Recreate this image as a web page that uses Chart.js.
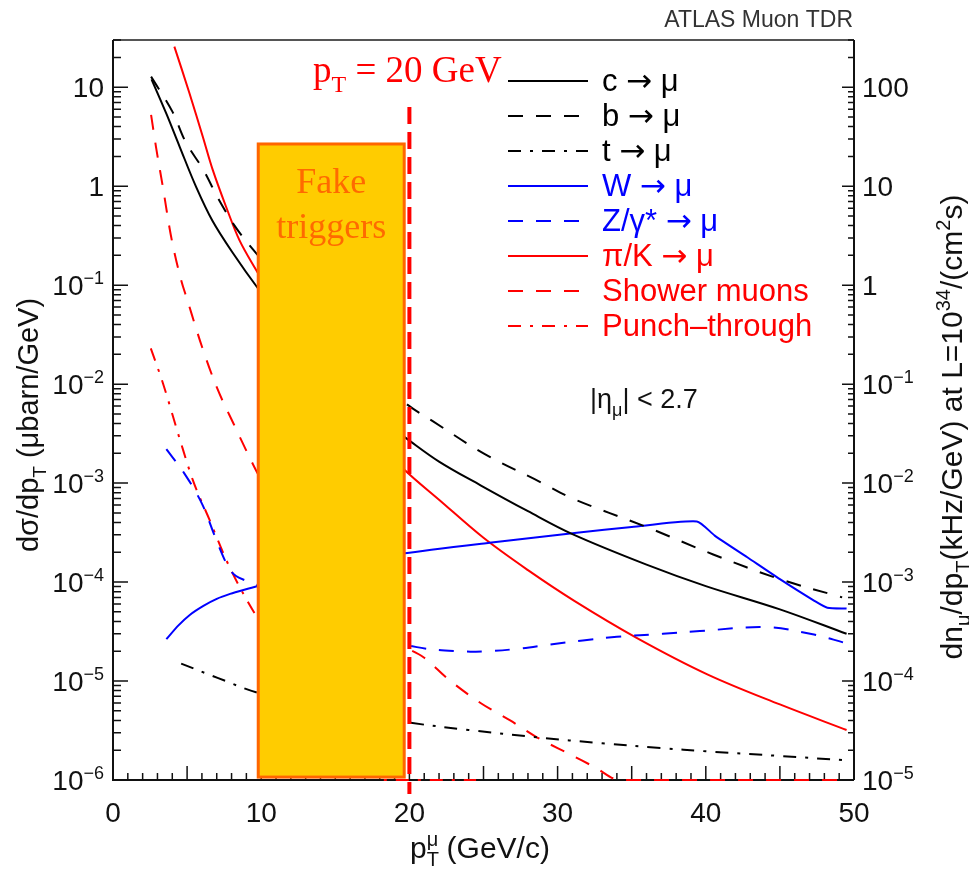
<!DOCTYPE html>
<html>
<head>
<meta charset="utf-8">
<script src="https://cdn.jsdelivr.net/npm/chart.js@4.4.1/dist/chart.umd.min.js"></script>
<style>
  body { margin: 0; background: #fff; }
  canvas { display: block; }
</style>
</head>
<body>
<canvas id="muonChart" width="969" height="873"></canvas>
<script>
// c -> mu
const cMuX = [2.6, 3.6, 4.5, 5.6, 6.7, 8.1, 9.8, 12, 15, 17.5, 19.7, 22, 24.8, 28, 31, 36, 40, 45, 49.5];
const cMuY = [12, 5.4, 2.5, 0.99, 0.45, 0.21, 0.092, 0.035, 0.011, 5.0e-3, 2.9e-3, 1.65e-3, 9.5e-4, 5.2e-4, 3.05e-4, 1.5e-4, 9.1e-5, 5.3e-5, 3.0e-5];
// b -> mu
const bMuX = [2.57, 4.0, 4.9, 6.1, 7.1, 8.2, 9.4, 12, 15, 17.5, 19.8, 21.6, 25, 28.8, 31, 36, 40.5, 45, 49.2];
const bMuY = [12.8, 5.7, 2.8, 1.46, 0.75, 0.40, 0.234, 0.083, 0.028, 0.0126, 6.3e-3, 4.2e-3, 2.0e-3, 1.03e-3, 7.0e-4, 3.6e-4, 1.9e-4, 1.07e-4, 7.0e-5];
// t -> mu
const tMuX = [4.6, 7.1, 9.8, 15, 20, 24, 28.6, 33, 37, 40, 45, 49.5];
const tMuY = [1.5e-5, 1.07e-5, 7.6e-6, 5.0e-6, 3.8e-6, 3.2e-6, 2.7e-6, 2.35e-6, 2.1e-6, 1.95e-6, 1.75e-6, 1.58e-6];
// W -> mu
const wMuX = [3.6, 4.4, 5.2, 6.1, 7.0, 7.9, 8.8, 9.8, 15, 19.7, 25.4, 31.3, 35, 39.4, 40.6, 42.8, 45, 47.3, 48.2, 49.5];
const wMuY = [2.65e-5, 3.63e-5, 4.68e-5, 5.75e-5, 6.76e-5, 7.59e-5, 8.32e-5, 9.12e-5, 1.4e-4, 1.95e-4, 2.5e-4, 3.15e-4, 3.6e-4, 4.1e-4, 2.95e-4, 1.78e-4, 1.07e-4, 6.5e-5, 5.5e-5, 5.4e-5];
// Z/gamma* -> mu
const zMuX = [3.6, 4.8, 6.0, 7.0, 7.8, 8.3, 9.0, 9.8, 15, 20.5, 23.2, 25.2, 27.5, 29.5, 31.7, 34, 37.1, 39.6, 44.1, 47.3, 49.3];
const zMuY = [2.2e-3, 1.26e-3, 6.2e-4, 2.6e-4, 1.4e-4, 1.15e-4, 1.03e-4, 9.2e-5, 3.5e-5, 2.2e-5, 2.0e-5, 2.0e-5, 2.13e-5, 2.34e-5, 2.57e-5, 2.8e-5, 3.0e-5, 3.2e-5, 3.5e-5, 2.95e-5, 2.45e-5];
// pi/K -> mu
const piKX = [4.14, 5.16, 6.06, 6.73, 7.63, 8.53, 9.66, 12, 15, 17.5, 19.7, 22, 25, 28, 31.1, 35.3, 40.1, 45, 49.5];
const piKY = [25.7, 8.7, 3.16, 1.46, 0.62, 0.285, 0.142, 0.036, 8.3e-3, 3.0e-3, 1.35e-3, 6.8e-4, 2.8e-4, 1.32e-4, 6.5e-5, 2.75e-5, 1.17e-5, 5.8e-6, 3.2e-6];
// shower muons (sits on the 1e-6 floor past ~34 GeV)
const showerX = [2.57, 2.9, 3.36, 3.92, 4.6, 5.0, 6.0, 7.0, 8.2, 9.23, 9.7, 12, 15, 17.5, 19.7, 20.95, 22.6, 24.8, 26.8, 28.6, 30.8, 32.5, 34.2, 40, 49.1];
const showerY = [5.25, 2.5, 0.99, 0.31, 0.112, 0.072, 0.024, 9.3e-3, 3.8e-3, 1.8e-3, 1.3e-3, 3.2e-4, 7.9e-5, 3.5e-5, 2.2e-5, 1.74e-5, 1.05e-5, 6.0e-6, 4.0e-6, 2.7e-6, 1.83e-6, 1.35e-6, 1.0e-6, 1.0e-6, 1.0e-6];
// punch-through
const punchX = [2.55, 3.38, 4.5, 5.4, 6.53, 7.66, 8.55, 9.57, 12, 15, 18.3, 21, 24.5];
const punchY = [0.023, 0.0101, 2.8e-3, 1.06e-3, 4.2e-4, 1.65e-4, 8.9e-5, 4.8e-5, 1.4e-5, 4.0e-6, 1.0e-6, 1.0e-6, 1.0e-6];

const xTicks = [0, 10, 20, 30, 40, 50];
const yLeftExp = [1, 0, -1, -2, -3, -4, -5, -6];
const yRightExp = [2, 1, 0, -1, -2, -3, -4, -5];

// "Fake triggers" region and the 20 GeV cut
const fakeBox = { xMin: 9.8, xMax: 19.65, yMin: 1.07e-6, yMax: 2.67 };
const cutPt = 20;
const cutTop = 6.3;

const SANS = "'Liberation Sans', Arial, Helvetica, sans-serif";
const SERIF = "'Liberation Serif', 'Times New Roman', serif";
const ARROW_FONT = "'DejaVu Sans', sans-serif";
const BLACK = "#000000", BLUE = "#0000ff", RED = "#ff0000";
const DASH = [15, 13];
const DASHDOT = [13, 9, 3, 9];

const series = [
  { label: "c → μ", xs: cMuX, ys: cMuY, color: BLACK, dash: [], tension: 0.35 },
  { label: "b → μ", xs: bMuX, ys: bMuY, color: BLACK, dash: DASH, tension: 0.35 },
  { label: "t → μ", xs: tMuX, ys: tMuY, color: BLACK, dash: DASHDOT, tension: 0.35 },
  { label: "W → μ", xs: wMuX, ys: wMuY, color: BLUE, dash: [], tension: 0.2 },
  { label: "Z/γ* → μ", xs: zMuX, ys: zMuY, color: BLUE, dash: DASH, tension: 0.35 },
  { label: "π/K → μ", xs: piKX, ys: piKY, color: RED, dash: [], tension: 0.35 },
  { label: "Shower muons", xs: showerX, ys: showerY, color: RED, dash: DASH, mono: true },
  { label: "Punch–through", xs: punchX, ys: punchY, color: RED, dash: DASHDOT, mono: true }
];

function pts(xs, ys) {
  return xs.map((x, i) => ({ x: x, y: ys[i] }));
}

// text with sub/superscripts; parts: {t, sub, sup, stay}
function drawRich(ctx, parts, x, y, size, family, align) {
  const small = Math.round(size * 0.65);
  const measure = p => {
    ctx.font = ((p.sub || p.sup) ? small : size) + "px " + (p.font || family);
    return ctx.measureText(p.t).width;
  };
  let total = 0;
  parts.forEach(p => { if (!p.stay) total += measure(p); });
  let cx = x;
  if (align === "center") cx = x - total / 2;
  if (align === "right") cx = x - total;
  ctx.textAlign = "left";
  ctx.textBaseline = "alphabetic";
  parts.forEach(p => {
    const w = measure(p);
    let dy = 0;
    if (p.sub) dy = size * 0.28;
    if (p.sup) dy = -size * 0.4;
    ctx.fillText(p.t, cx, y + dy);
    if (!p.stay) cx += w;
  });
}

function powParts(e) {
  if (e >= 0) return [{ t: String(Math.pow(10, e)) }];
  return [{ t: "10" }, { t: "−" + (-e), sup: true }];
}

// frame and inward ticks, drawn under the curves
const framePlugin = {
  id: "frame",
  beforeDatasetsDraw(chart) {
    const { ctx, chartArea: a, scales } = chart;
    ctx.save();
    ctx.lineCap = "butt";
    // top border
    ctx.strokeStyle = "#555";
    ctx.lineWidth = 2;
    ctx.beginPath();
    ctx.moveTo(a.left, a.top);
    ctx.lineTo(a.right, a.top);
    ctx.stroke();
    // axes
    ctx.strokeStyle = "#111";
    ctx.beginPath();
    ctx.moveTo(a.left, a.top);
    ctx.lineTo(a.left, a.bottom);
    ctx.lineTo(a.right, a.bottom);
    ctx.moveTo(a.right, a.top);
    ctx.lineTo(a.right, a.bottom);
    ctx.stroke();

    ctx.lineWidth = 1.5;
    ctx.beginPath();
    // left log ticks
    const y = scales.y;
    for (let e = -6; e <= 1; e++) {
      for (let m = 1; m <= 9; m++) {
        const v = m * Math.pow(10, e);
        if (v < y.min || v > y.max) continue;
        const py = y.getPixelForValue(v);
        ctx.moveTo(a.left, py);
        ctx.lineTo(a.left + (m === 1 ? 15 : 8), py);
      }
    }
    // right log ticks
    const y2 = scales.y2;
    for (let e = -5; e <= 2; e++) {
      for (let m = 1; m <= 9; m++) {
        const v = m * Math.pow(10, e);
        if (v < y2.min || v > y2.max) continue;
        const py = y2.getPixelForValue(v);
        ctx.moveTo(a.right, py);
        ctx.lineTo(a.right - (m === 1 ? 12 : 6), py);
      }
    }
    // bottom ticks
    const x = scales.x;
    for (let v = 1; v < 50; v++) {
      const px = x.getPixelForValue(v);
      ctx.moveTo(px, a.bottom);
      ctx.lineTo(px, a.bottom - (v % 5 === 0 ? 14 : 7));
    }
    ctx.stroke();
    ctx.restore();
  }
};

// fake-trigger box, cut line, legend and all texts
const decorPlugin = {
  id: "decor",
  afterDatasetsDraw(chart) {
    const { ctx, chartArea: a, scales } = chart;
    const x = scales.x, y = scales.y, y2 = scales.y2;
    ctx.save();

    // Fake triggers box
    const bx0 = x.getPixelForValue(fakeBox.xMin);
    const bx1 = x.getPixelForValue(fakeBox.xMax);
    const by0 = y.getPixelForValue(fakeBox.yMax);
    const by1 = y.getPixelForValue(fakeBox.yMin);
    ctx.fillStyle = "#ffcc00";
    ctx.fillRect(bx0, by0, bx1 - bx0, by1 - by0);
    ctx.strokeStyle = "#ff6600";
    ctx.lineWidth = 3;
    ctx.strokeRect(bx0, by0, bx1 - bx0, by1 - by0);
    ctx.fillStyle = "#ff6a00";
    ctx.font = "36px " + SERIF;
    ctx.textAlign = "center";
    ctx.textBaseline = "alphabetic";
    const bxc = (bx0 + bx1) / 2;
    ctx.fillText("Fake", bxc, 193);
    ctx.fillText("triggers", bxc, 238);

    // 20 GeV cut line
    const cx = x.getPixelForValue(cutPt);
    ctx.strokeStyle = RED;
    ctx.lineWidth = 4;
    ctx.setLineDash([17, 8]);
    ctx.beginPath();
    ctx.moveTo(cx, y.getPixelForValue(cutTop));
    ctx.lineTo(cx, a.bottom + 14);
    ctx.stroke();
    ctx.setLineDash([]);

    ctx.fillStyle = RED;
    drawRich(ctx, [{ t: "p" }, { t: "T", sub: true }, { t: " = 20 GeV" }], 313, 82, 37, SERIF, "left");

    // legend
    chart.data.datasets.forEach((ds, i) => {
      const ly = 81 + i * 35;
      ctx.strokeStyle = ds.borderColor;
      ctx.lineWidth = 2;
      ctx.setLineDash(ds.borderDash || []);
      ctx.beginPath();
      ctx.moveTo(508, ly);
      ctx.lineTo(588, ly);
      ctx.stroke();
      ctx.setLineDash([]);
      ctx.fillStyle = ds.borderColor;
      const bits = ds.label.split("→");
      const parts = [{ t: bits[0] }];
      if (bits.length > 1) {
        parts.push({ t: "→", font: ARROW_FONT });
        parts.push({ t: bits[1] });
      }
      drawRich(ctx, parts, 602, ly + 10, 31, SANS, "left");
    });

    ctx.fillStyle = "#111";
    drawRich(ctx, [{ t: "|η" }, { t: "μ", sub: true }, { t: "| < 2.7" }], 590, 408, 27, SANS, "left");

    // tick labels
    ctx.fillStyle = "#111";
    yLeftExp.forEach(e => {
      const py = y.getPixelForValue(Math.pow(10, e));
      drawRich(ctx, powParts(e), 104, py + 10, 28, SANS, "right");
    });
    yRightExp.forEach(e => {
      const py = y2.getPixelForValue(Math.pow(10, e));
      drawRich(ctx, powParts(e), 862, py + 10, 28, SANS, "left");
    });
    ctx.font = "28px " + SANS;
    ctx.textAlign = "center";
    ctx.textBaseline = "alphabetic";
    xTicks.forEach(v => {
      ctx.fillText(String(v), x.getPixelForValue(v), 822);
    });

    // axis titles
    drawRich(ctx, [{ t: "p" }, { t: "T", sub: true, stay: true }, { t: "μ", sup: true }, { t: " (GeV/c)" }], 480, 858, 30, SANS, "center");

    ctx.save();
    ctx.translate(38, 425);
    ctx.rotate(-Math.PI / 2);
    drawRich(ctx, [{ t: "dσ/dp" }, { t: "T", sub: true }, { t: " (μbarn/GeV)" }], 0, 0, 29, SANS, "center");
    ctx.restore();

    ctx.save();
    ctx.translate(962, 427);
    ctx.rotate(-Math.PI / 2);
    drawRich(ctx, [{ t: "dn" }, { t: "μ", sub: true }, { t: "/dp" }, { t: "T", sub: true },
      { t: "(kHz/GeV) at L=10" }, { t: "34", sup: true }, { t: "/(cm" }, { t: "2", sup: true }, { t: "s)" }],
      0, 0, 30, SANS, "center");
    ctx.restore();

    ctx.fillStyle = "#333";
    ctx.font = "23px " + SANS;
    ctx.textAlign = "right";
    ctx.fillText("ATLAS Muon TDR", 853, 27);

    ctx.restore();
  }
};

new Chart(document.getElementById("muonChart"), {
  type: "line",
  data: {
    datasets: series.map(s => ({
      label: s.label,
      data: pts(s.xs, s.ys),
      borderColor: s.color,
      borderWidth: 2,
      borderDash: s.dash,
      pointRadius: 0,
      fill: false,
      clip: 3,
      tension: s.tension || 0,
      cubicInterpolationMode: s.mono ? "monotone" : "default"
    }))
  },
  options: {
    responsive: false,
    animation: false,
    layout: { padding: { top: 40, left: 0, right: 0, bottom: 0 } },
    plugins: { legend: { display: false }, tooltip: { enabled: false } },
    scales: {
      x: {
        type: "linear", min: 0, max: 50,
        grid: { display: false }, border: { display: false }, ticks: { display: false },
        afterFit: s => { s.height = 93; }
      },
      y: {
        type: "logarithmic", min: 1e-6, max: 30, position: "left",
        grid: { display: false }, border: { display: false }, ticks: { display: false },
        afterFit: s => { s.width = 113; }
      },
      y2: {
        type: "logarithmic", min: 1e-5, max: 300, position: "right",
        grid: { display: false }, border: { display: false }, ticks: { display: false },
        afterFit: s => { s.width = 115; }
      }
    }
  },
  plugins: [framePlugin, decorPlugin]
});
</script>
</body>
</html>
